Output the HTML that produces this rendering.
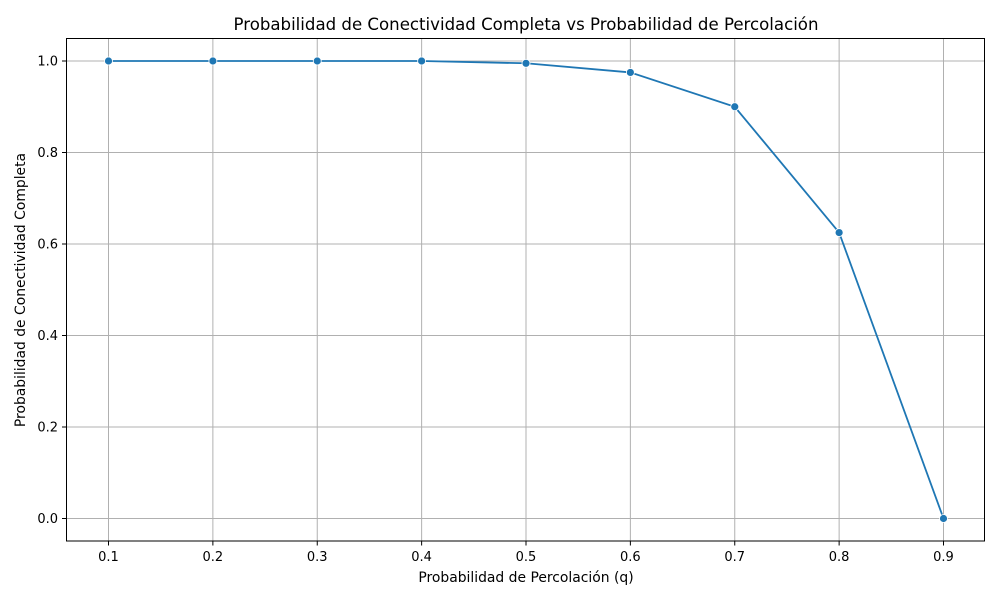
<!DOCTYPE html>
<html><head><meta charset="utf-8"><style>body{margin:0;background:#fff}svg{font-family:"DejaVu Sans","Liberation Sans",sans-serif}</style></head>
<body>
<svg id="chart" width="1000" height="600">
<text x="526" y="30" text-anchor="middle" font-size="16.6">Probabilidad de Conectividad Completa vs Probabilidad de Percolación</text>
<g id="grid"></g><g id="ticks"></g><g id="series"></g>
<rect x="66.5" y="38.5" width="918" height="502.5" fill="none" stroke="#000" stroke-width="1"/>
<text x="526" y="582" text-anchor="middle" font-size="13.9">Probabilidad de Percolación (q)</text>
<text transform="translate(25,290) rotate(-90)" text-anchor="middle" font-size="13.9">Probabilidad de Conectividad Completa</text>
</svg>
<script>
const xValues=[0.1,0.2,0.3,0.4,0.5,0.6,0.7,0.8,0.9];
const yValues=[1,1,1,1,0.995,0.975,0.9,0.625,0.0];
const xTicks=[0.1,0.2,0.3,0.4,0.5,0.6,0.7,0.8,0.9];
const yTicks=[0,0.2,0.4,0.6,0.8,1.0];
const NS="http://www.w3.org/2000/svg";
function X(v){return 108.5+(v-0.1)*1043.75;}
function Y(v){return 518.5-v*457.5;}
function mk(t,a,p){const e=document.createElementNS(NS,t);for(const k in a)e.setAttribute(k,a[k]);p.appendChild(e);return e;}
const g=document.getElementById('grid'),tk=document.getElementById('ticks'),s=document.getElementById('series');
xTicks.forEach(v=>{const x=X(v);
const l=mk('line',{x1:x,x2:x,y1:38.5,y2:541,stroke:'#b0b0b0','stroke-width':1},g);

const m=mk('line',{x1:x,x2:x,y1:541,y2:545.5,stroke:'#000'},tk);

const t=mk('text',{x:x,y:561,'text-anchor':'middle','font-size':13},tk);t.textContent=v.toFixed(1);
});
yTicks.forEach(v=>{const y=Y(v);
const l=mk('line',{x1:66.5,x2:984.5,y1:y,y2:y,stroke:'#b0b0b0','stroke-width':1},g);

const m=mk('line',{x1:62,x2:66.5,y1:y,y2:y,stroke:'#000'},tk);

const t=mk('text',{x:58,y:y+4.5,'text-anchor':'end','font-size':13},tk);t.textContent=v.toFixed(1);
});
const pl=mk('polyline',{points:xValues.map((v,i)=>X(v)+','+Y(yValues[i])).join(' '),fill:'none',stroke:'#1f77b4','stroke-width':1.8},s);

xValues.forEach((v,i)=>{const c=mk('circle',{cx:X(v),cy:Y(yValues[i]),r:4,fill:'#1f77b4',stroke:'#fff','stroke-width':0.8},s);
});
</script>
</body></html>
